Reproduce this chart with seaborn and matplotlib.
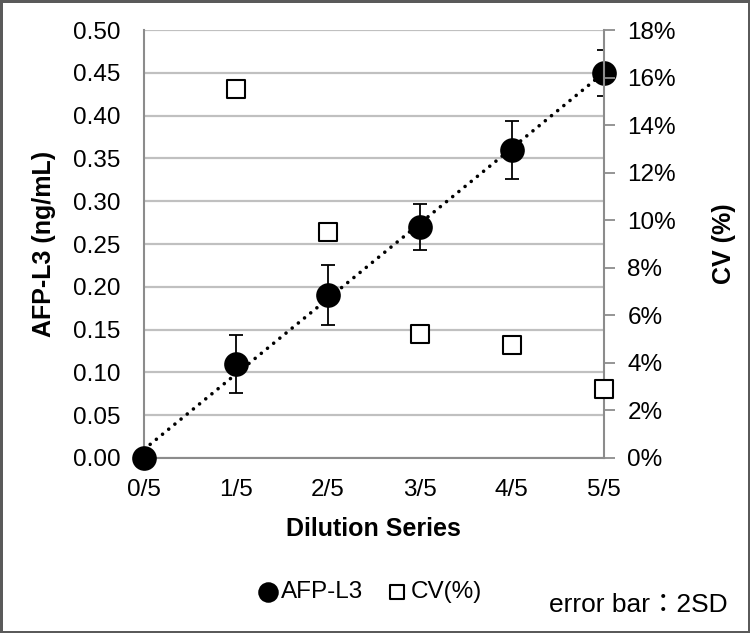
import numpy as np
import pandas as pd
import matplotlib.pyplot as plt
import seaborn as sns

# dilution steps and measured values
dilution = ["0/5", "1/5", "2/5", "3/5", "4/5", "5/5"]
afp_l3 = [0.00, 0.11, 0.19, 0.27, 0.36, 0.45]
afp_2sd = [0.0, 0.034, 0.035, 0.027, 0.034, 0.027]
cv_pct = [np.nan, 15.5, 9.5, 5.2, 4.75, 2.9]

df = pd.DataFrame({
    "step": range(len(dilution)),
    "afp": afp_l3,
    "sd2": afp_2sd,
    "cv": cv_pct,
})

sns.set_style("white")
plt.rcParams["font.family"] = ["Liberation Sans", "Noto Sans CJK JP"]
plt.rcParams["text.color"] = "black"
plt.rcParams["axes.labelcolor"] = "black"
plt.rcParams["xtick.labelcolor"] = "black"
plt.rcParams["ytick.labelcolor"] = "black"

fig = plt.figure(figsize=(7.5, 6.33), dpi=100, linewidth=2.5, edgecolor="#5a5a5a")
ax = fig.add_axes([0.192, 0.2765, 0.613, 0.676])
ax2 = ax.twinx()

grey = "#8c8c8c"

# trend line
sns.regplot(data=df, x="step", y="afp", ax=ax, scatter=False, ci=None, truncate=True,
            line_kws=dict(color="black", lw=2.6, linestyle=(0, (0.01, 2.2)),
                          dash_capstyle="round", zorder=2))

ax.errorbar(df["step"], df["afp"], yerr=df["sd2"], fmt="none", ecolor="black",
            elinewidth=1.3, capsize=5, capthick=1.3, zorder=3)

sns.scatterplot(data=df, x="step", y="afp", ax=ax, s=270, color="black",
                edgecolor="black", zorder=4, clip_on=False, label="AFP-L3", legend=False)

sns.scatterplot(data=df, x="step", y="cv", ax=ax2, marker="s", s=169, color="white",
                edgecolor="black", linewidth=1.5, zorder=4, clip_on=False,
                label="CV(%)", legend=False)

ax.set_xlim(0, 5)
ax.set_ylim(0, 0.5)
ax.set_xticks(df["step"], dilution)
ax.set_yticks(np.arange(0, 0.501, 0.05))
ax.set_yticklabels([f"{v:.2f}" for v in np.arange(0, 0.501, 0.05)])
ax.yaxis.grid(True, color="#c0c0c0", lw=1.6)
ax.set_axisbelow(True)
ax.tick_params(axis="y", length=0, pad=17, labelsize=17.5)
ax.tick_params(axis="x", length=0, pad=15, labelsize=17.5)
ax.set_xlabel("Dilution Series", fontsize=18, fontweight="bold", labelpad=12)
ax.set_ylabel("AFP-L3 (ng/mL)", fontsize=18, fontweight="bold", labelpad=12)

ax2.set_ylim(0, 18)
ax2.set_yticks(range(0, 19, 2))
ax2.set_yticklabels([f"{v}%" for v in range(0, 19, 2)])
ax2.tick_params(axis="y", length=8, width=1.3, color=grey, pad=9, labelsize=17.5)
ax2.set_ylabel("CV (%)", fontsize=18, fontweight="bold", labelpad=26)

for a in (ax, ax2):
    for side in ("top", "left", "bottom", "right"):
        a.spines[side].set_visible(False)
ax.spines["left"].set_visible(True)
ax.spines["bottom"].set_visible(True)
ax2.spines["right"].set_visible(True)
for sp in (ax.spines["left"], ax.spines["bottom"], ax2.spines["right"]):
    sp.set_color(grey)
    sp.set_linewidth(1.5)

h1, l1 = ax.get_legend_handles_labels()
h2, l2 = ax2.get_legend_handles_labels()
fig.legend(h1 + h2, l1 + l2, loc="center", bbox_to_anchor=(370 / 750, 1 - 592 / 633),
           ncol=2, frameon=False, fontsize=17.5, handlelength=0.8, handletextpad=0.15,
           columnspacing=1.0, markerscale=0.82)

fig.text(728 / 750, 1 - 605 / 633, "error bar：2SD", ha="right", va="center", fontsize=19)

fig.savefig("out.png", dpi=100)
